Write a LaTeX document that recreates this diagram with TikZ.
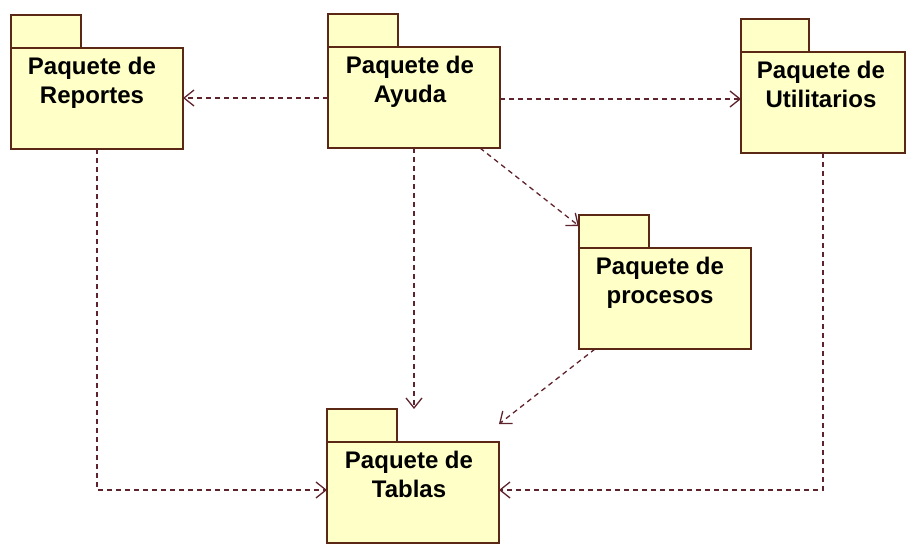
\documentclass[tikz,border=0pt]{standalone}
\usepackage{fontspec}
\setmainfont{Liberation Sans}
\usetikzlibrary{positioning}
\usetikzlibrary{arrows.meta}
\definecolor{pkgfill}{RGB}{255,255,200}
\definecolor{pkgline}{RGB}{90,40,20}
\definecolor{depline}{RGB}{95,35,45}

\begin{document}
\begin{tikzpicture}[x=1pt, y=-1pt,
    pkg/.style = {minimum width=172pt, minimum height=134pt, inner sep=0pt, outer sep=0pt},
    pkgbody/.style = {draw=pkgline, fill=pkgfill, line width=1.6pt, minimum width=172pt, minimum height=101pt, inner sep=0pt, outer sep=0pt, anchor=south},
    pkgtab/.style = {draw=pkgline, fill=pkgfill, line width=1.6pt, minimum width=70pt, minimum height=33pt, inner sep=0pt, outer sep=0pt, anchor=south west},
    pkgname/.style = {font=\bfseries\fontsize{24}{28.5}\selectfont, align=center, anchor=north, inner sep=0pt},
    dep/.style = {draw=depline, line width=1.3pt, dash pattern=on 5pt off 4pt, -{Straight Barb[length=10pt, width=16pt]}}]
    \useasboundingbox (0,0) rectangle (907,546);

    % paquetes (caja completa, cuerpo, pestana, nombre)
    \node[pkg] (rep) at (97,82) {};
    \node[pkgbody] (rep-body) at (rep.south) {};
    \node[pkgtab] (rep-tab) at (rep-body.north west) {};
    \node[pkgname] (rep-name) at ([xshift=-5pt, yshift=-9pt]rep-body.north) {Paquete de\\Reportes};

    \node[pkg] (ayu) at (414,81) {};
    \node[pkgbody] (ayu-body) at (ayu.south) {};
    \node[pkgtab] (ayu-tab) at (ayu-body.north west) {};
    \node[pkgname] (ayu-name) at ([xshift=-4pt, yshift=-9pt]ayu-body.north) {Paquete de\\Ayuda};

    \node[pkg, minimum width=164pt] (uti) at (823,86) {};
    \node[pkgbody, minimum width=164pt] (uti-body) at (uti.south) {};
    \node[pkgtab, minimum width=68pt] (uti-tab) at (uti-body.north west) {};
    \node[pkgname] (uti-name) at ([xshift=-2pt, yshift=-9pt]uti-body.north) {Paquete de\\Utilitarios};

    \node[pkg] (pro) at (665,282) {};
    \node[pkgbody] (pro-body) at (pro.south) {};
    \node[pkgtab] (pro-tab) at (pro-body.north west) {};
    \node[pkgname] (pro-name) at ([xshift=-5pt, yshift=-9pt]pro-body.north) {Paquete de\\procesos};

    \node[pkg] (tbl) at (413,476) {};
    \node[pkgbody] (tbl-body) at (tbl.south) {};
    \node[pkgtab] (tbl-tab) at (tbl-body.north west) {};
    \node[pkgname] (tbl-name) at ([xshift=-4pt, yshift=-9pt]tbl-body.north) {Paquete de\\Tablas};

    % dependencias
    \draw[dep] ([yshift=-17pt]ayu.west) -- ([yshift=-16pt]rep.east);
    \draw[dep] ([yshift=-18pt]ayu.east) -- ([yshift=-13pt]uti.west);
    \draw[dep] (ayu.south) -- (ayu.south |- tbl.north);
    \draw[dep] ([xshift=66pt]ayu.south) -- ([yshift=-11pt]pro.north west);
    \draw[dep] ([xshift=-70pt]pro.south) -- ([yshift=-15pt]tbl.north east);
    \draw[dep] (rep.south) |- ([yshift=-14pt]tbl.west);
    \draw[dep] (uti.south) |- ([yshift=-14pt]tbl.east);
\end{tikzpicture}
\end{document}
